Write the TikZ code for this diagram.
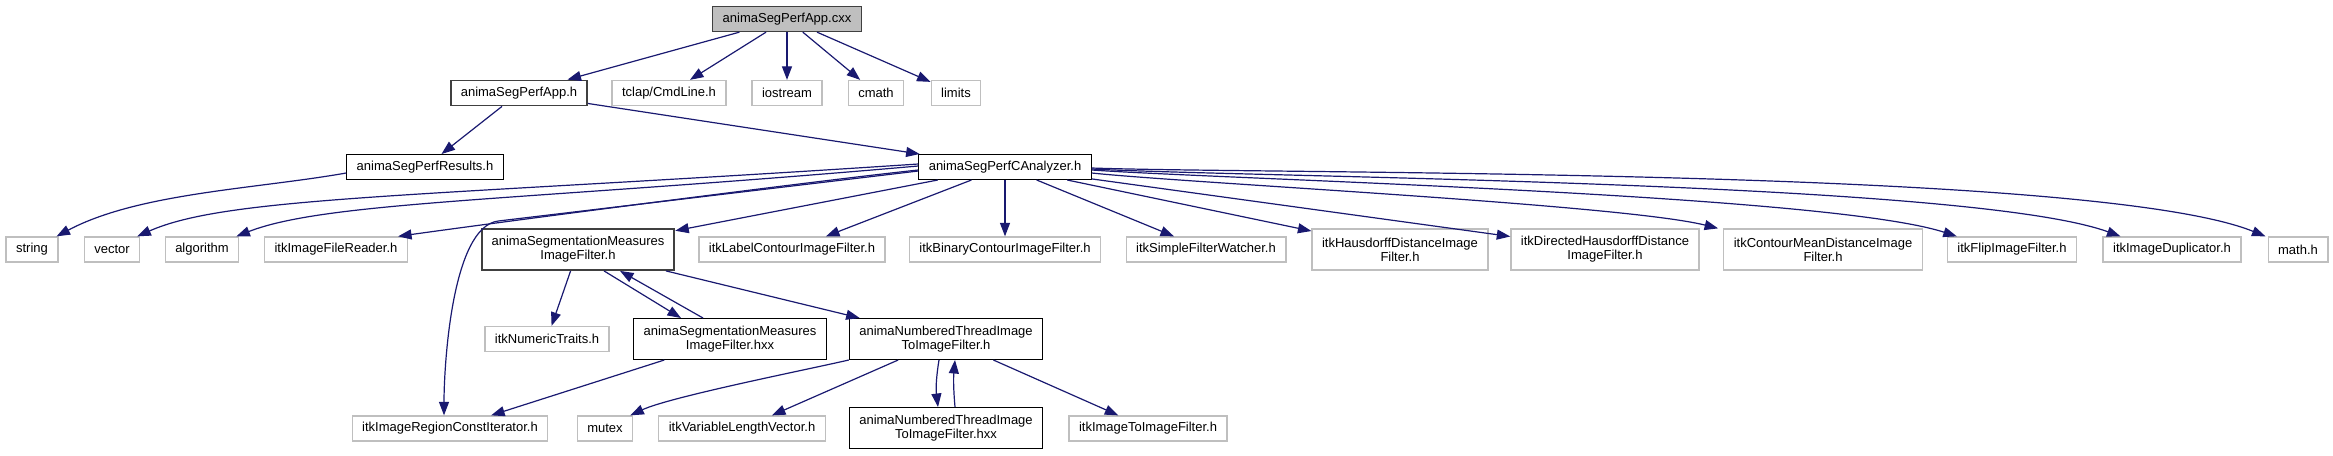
\documentclass[tikz,border=0pt]{standalone}
\usepackage{fontspec}
\setmainfont{Liberation Sans}
\usetikzlibrary{arrows.meta}
\definecolor{edgeblue}{HTML}{191970}
\definecolor{lightframe}{HTML}{BFBFBF}
\definecolor{darkframe}{HTML}{404040}

\begin{document}
\begin{tikzpicture}[x=0.4pt, y=0.4pt,
  box/.style={draw=black, line width=0.4pt, rectangle, fill=white, minimum height=10pt,
              inner xsep=4pt, inner ysep=0.8pt, align=center, font=\fontsize{5.2}{5.6}\selectfont},
  gbox/.style={box, draw=lightframe, line width=0.52pt},
  hbox/.style={box, draw=darkframe, line width=0.72pt},
  rbox/.style={box, draw=darkframe, fill=lightframe, line width=0.52pt},
  tall/.style={minimum height=16.4pt},
  arr/.style={-{Triangle[length=5.4pt,width=4pt]}, draw=edgeblue, line width=0.48pt},
]
\useasboundingbox (0,0) rectangle (2333,-455);

%% ---- Level 0 / 1 ----
\node[rbox] (cxx)      at (787,-19) {animaSegPerfApp.cxx};
\node[hbox] (app)      at (519,-93) {animaSegPerfApp.h};
\node[gbox] (tclap)    at (669,-93) {tclap/CmdLine.h};
\node[gbox] (iostream) at (787,-93) {iostream};
\node[gbox] (cmath)    at (876,-93) {cmath};
\node[gbox] (limits)   at (956,-93) {limits};

%% ---- Level 2 ----
\node[box] (res) at (425,-167)  {animaSegPerfResults.h};
\node[box] (ana) at (1005,-167) {animaSegPerfCAnalyzer.h};

%% ---- Level 3 ----
\node[gbox] (string) at (32,-249.5)   {string};
\node[gbox] (vector) at (112,-249.5)  {vector};
\node[gbox] (algo)   at (202,-249.5)  {algorithm};
\node[gbox] (reader) at (336,-249.5)  {itkImageFileReader.h};
\node[hbox, tall] (mif) at (578,-249.5) {animaSegmentationMeasures\\ImageFilter.h};
\node[gbox] (label)  at (792,-249.5)  {itkLabelContourImageFilter.h};
\node[gbox] (binary) at (1005,-249.5) {itkBinaryContourImageFilter.h};
\node[gbox] (watch)  at (1206,-249.5) {itkSimpleFilterWatcher.h};
\node[gbox, tall] (haus)  at (1400,-249.5) {itkHausdorffDistanceImage\\Filter.h};
\node[gbox, tall] (dhaus) at (1605,-249.5) {itkDirectedHausdorffDistance\\ImageFilter.h};
\node[gbox, tall] (cmean) at (1823,-249.5) {itkContourMeanDistanceImage\\Filter.h};
\node[gbox] (flip)   at (2012,-249.5) {itkFlipImageFilter.h};
\node[gbox] (dup)    at (2172,-249.5) {itkImageDuplicator.h};
\node[gbox] (math)   at (2298,-249.5) {math.h};

%% ---- Level 4 ----
\node[gbox] (traits)     at (547,-339) {itkNumericTraits.h};
\node[box, tall] (mifx)  at (730,-339) {animaSegmentationMeasures\\ImageFilter.hxx};
\node[box, tall] (ntif)  at (946,-339) {animaNumberedThreadImage\\ToImageFilter.h};

%% ---- Level 5 ----
\node[gbox] (iter)       at (450,-428.5)  {itkImageRegionConstIterator.h};
\node[gbox] (mutex)      at (605,-428.5)  {mutex};
\node[gbox] (vlv)        at (742,-428.5)  {itkVariableLengthVector.h};
\node[box, tall] (ntifx) at (946,-428)    {animaNumberedThreadImage\\ToImageFilter.hxx};
\node[gbox] (i2i)        at (1148,-428.5) {itkImageToImageFilter.h};

%% ---- cxx includes ----
\draw[arr] (cxx) -- (app);
\draw[arr] (cxx) -- (tclap);
\draw[arr] (cxx) -- (iostream);
\draw[arr] (cxx) -- (cmath);
\draw[arr] (cxx) -- (limits);

%% ---- app / results ----
\draw[arr] (app) -- (res);
\draw[arr] (app) -- (ana);
\draw[arr] ([yshift=-2.4pt]res.west) to[out=190, in=28, looseness=0.8] ([xshift=-0.8pt]string.north east);

%% ---- analyzer, left side ----
\draw[arr] ([yshift=1.2pt]ana.west) .. controls +(-500,-33) and +(90,40) .. ([xshift=-1.2pt]vector.north east);
\draw[arr] ([yshift=0.4pt]ana.west) .. controls +(-400,-35) and +(90,35) .. ([xshift=-1.2pt]algo.north east);
\draw[arr] ([yshift=-1.2pt]ana.west) to[out=186, in=8, looseness=0.5] ([xshift=-4pt]reader.north east);
\draw[arr] ([yshift=-1.6pt]ana.west) -- +(-420,-50) to[out=187, in=90, looseness=0.6] ([xshift=-2.4pt]iter.north);
\draw[arr] (ana) -- (mif);

%% ---- analyzer, below ----
\draw[arr] (ana) -- (label);
\draw[arr] (ana) -- (binary);
\draw[arr] (ana) -- (watch);
\draw[arr] (ana) -- (haus);
\draw[arr] (ana) -- (dhaus);

%% ---- analyzer, right side ----
\draw[arr] ([yshift=-2.4pt]ana.east) to[out=-6, in=166, looseness=0.4] ([xshift=-2pt]cmean.north west);
\draw[arr] ([yshift=-1.2pt]ana.east) to[out=-4, in=162, looseness=0.4] ([xshift=4pt]flip.north west);
\draw[arr] ([yshift=-0.8pt]ana.east) to[out=-3, in=160, looseness=0.4] ([xshift=7.2pt]dup.north west);
\draw[arr] ([yshift=-0.4pt]ana.east) to[out=-2, in=158, looseness=0.4] ([xshift=-0.8pt]math.north west);

%% ---- segmentation measures ----
\draw[arr] (mif) -- (traits);
\draw[arr] ([xshift=10.4pt]mif.south) -- ([xshift=-19.6pt]mifx.north);
\draw[arr] ([xshift=-10.8pt]mifx.north) -- ([xshift=16.8pt]mif.south);
\draw[arr] (mif) -- (ntif);
\draw[arr] (mifx) -- (iter);

%% ---- numbered thread filter ----
\draw[arr] (ntif.south west) to[out=193, in=25, looseness=0.5] ([xshift=-1.2pt]mutex.north east);
\draw[arr] (ntif) -- (vlv);
\draw[arr] ([xshift=-2.8pt]ntif.south) to[bend right=8] ([xshift=-3.2pt]ntifx.north);
\draw[arr] ([xshift=3.6pt]ntifx.north) to[bend left=5] ([xshift=3.6pt]ntif.south);
\draw[arr] (ntif) -- (i2i);
\end{tikzpicture}
\end{document}
